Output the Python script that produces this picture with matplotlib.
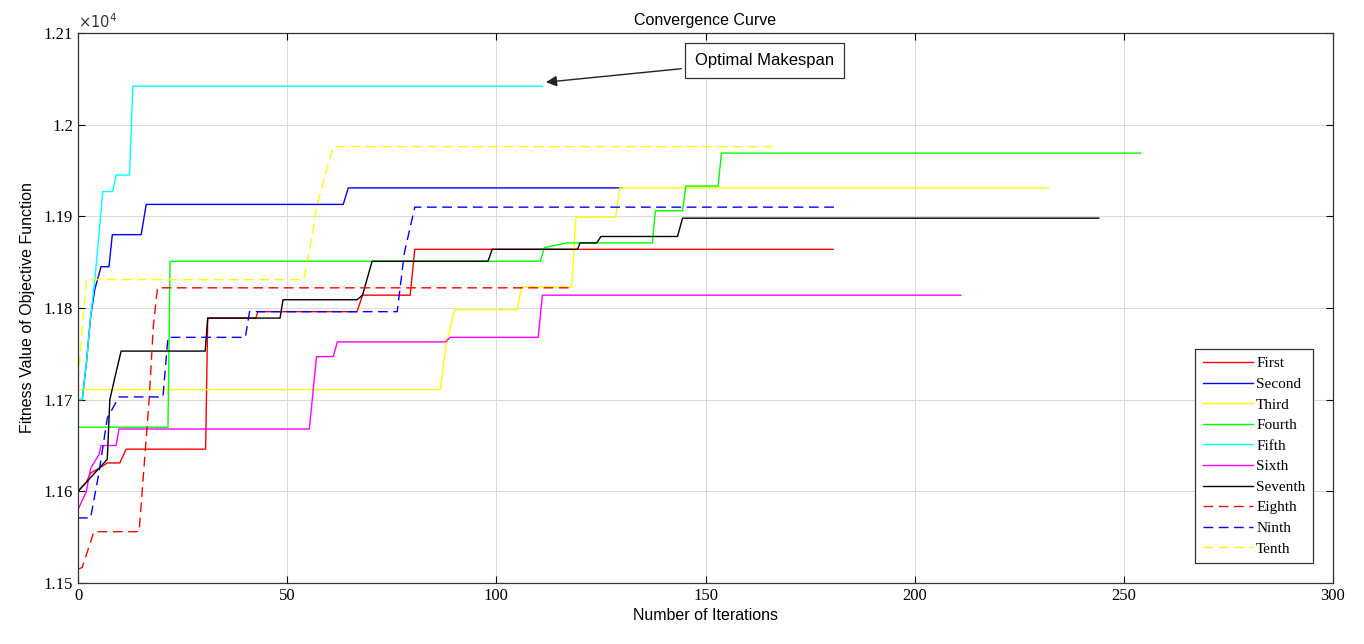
import numpy as np
import matplotlib
matplotlib.use("Agg")
import matplotlib.pyplot as plt
from matplotlib.ticker import FuncFormatter

# iteration / fitness breakpoints (fitness in raw units)
first_x = [0, 2, 3, 5, 7, 10, 11.5, 30.5, 31, 42.5, 43, 66.7, 68, 79.4, 80.5, 180.5]
first_y = [11600, 11610, 11620, 11625, 11631, 11631, 11646, 11646, 11789, 11789, 11796, 11796, 11814, 11814, 11864, 11864]

second_x = [0, 1, 2, 3, 4, 5.5, 7.4, 8.2, 15.1, 16.3, 63.4, 64.6, 130]
second_y = [11700, 11700, 11740, 11790, 11820, 11845, 11845, 11880, 11880, 11913, 11913, 11931, 11931]

third_x = [0, 86.6, 88, 90, 105, 106, 118, 118.5, 119, 128.5, 129.5, 232]
third_y = [11711, 11711, 11760, 11798, 11798, 11823, 11823, 11860, 11899, 11899, 11931, 11931]

fourth_x = [0, 21.5, 22, 110.5, 111.5, 117, 137.3, 138, 144.5, 145.3, 153, 153.8, 254]
fourth_y = [11670, 11670, 11851, 11851, 11866, 11871, 11871, 11906, 11906, 11933, 11933, 11969, 11969]

fifth_x = [0, 1, 2, 3, 4, 5, 5.9, 8.3, 9.1, 12.3, 13.1, 111]
fifth_y = [11700, 11700, 11740, 11790, 11830, 11880, 11927, 11927, 11945, 11945, 12042, 12042]

sixth_x = [0, 2, 3, 5, 5.5, 9.1, 9.8, 55.3, 57, 61, 62, 87.8, 89, 110, 111, 211]
sixth_y = [11580, 11600, 11625, 11640, 11650, 11650, 11668, 11668, 11747, 11747, 11763, 11763, 11768, 11768, 11814, 11814]

seventh_x = [0, 2, 4, 6, 7, 7.6, 8.6, 10.3, 30.4, 31, 48.3, 49, 66.7, 68, 70.3, 98, 99, 119.4, 120, 124, 125, 143.3, 144.5, 244]
seventh_y = [11600, 11610, 11620, 11630, 11635, 11700, 11720, 11753, 11753, 11789, 11789, 11809, 11809, 11814, 11851, 11851, 11864, 11864, 11871, 11871, 11878, 11878, 11898, 11898]

eighth_x = [0, 1, 3.8, 14.6, 16, 17, 18, 19, 118.4]
eighth_y = [11515, 11517, 11556, 11556, 11640, 11700, 11780, 11822, 11822]

ninth_x = [0, 3, 5, 7, 9.8, 20.3, 21.5, 40, 41, 76.3, 78, 80.5, 181.6]
ninth_y = [11571, 11571, 11620, 11680, 11703, 11703, 11768, 11768, 11796, 11796, 11860, 11910, 11910]

tenth_x = [0, 1, 2, 54, 56, 57, 60, 61, 166]
tenth_y = [11720, 11780, 11831, 11831, 11880, 11910, 11960, 11976, 11976]

names = ["First", "Second", "Third", "Fourth", "Fifth", "Sixth", "Seventh", "Eighth", "Ninth", "Tenth"]
xs = [first_x, second_x, third_x, fourth_x, fifth_x, sixth_x, seventh_x, eighth_x, ninth_x, tenth_x]
ys = [first_y, second_y, third_y, fourth_y, fifth_y, sixth_y, seventh_y, eighth_y, ninth_y, tenth_y]
styles = ["r-", "b-", "y-", "g-", "c-", "m-", "k-", "r--", "b--", "y--"]

plt.rcParams["font.family"] = ["Liberation Serif", "DejaVu Serif"]
sans = ["Liberation Sans", "DejaVu Sans"]

fig = plt.figure(figsize=(13.64, 6.44), dpi=100)
ax = fig.add_axes([0.0572, 0.0947, 0.9201, 0.8541])

colors = {"r": "#ff0000", "b": "#0000ff", "y": "#ffff00", "g": "#00ff00",
          "c": "#00ffff", "m": "#ff00ff", "k": "#000000"}
for x, y, st, nm in zip(xs, ys, styles, names):
    if "--" in st:
        ax.plot(x, y, color=colors[st[0]], lw=1.0, dashes=(7, 4), label=nm)
    else:
        ax.plot(x, y, color=colors[st[0]], lw=1.0, label=nm)

ax.set_xlim(0, 300)
ax.set_ylim(11500, 12100)
ax.set_xticks(np.arange(0, 301, 50))
ax.set_yticks(np.arange(11500, 12101, 100))
ax.yaxis.set_major_formatter(FuncFormatter(lambda v, p: "%g" % round(v / 1e4, 4)))
ax.tick_params(direction="in", top=True, right=True, labelsize=12, length=5, width=0.8)
ax.grid(True, color="#d9d9d9", lw=0.7)
for s in ax.spines.values():
    s.set_color("#333333")
    s.set_linewidth(0.9)

ax.text(0, 1.004, r"$\times10^{4}$", transform=ax.transAxes, fontsize=10.5,
        va="bottom", ha="left", color="#333333")

ax.set_title("Convergence Curve", fontsize=11.5, family=sans, pad=6)
ax.set_xlabel("Number of Iterations", fontsize=11.5, family=sans, labelpad=3)
ax.set_ylabel("Fitness Value of Objective Function", fontsize=11.5, family=sans, labelpad=6)

ax.annotate("Optimal Makespan", xy=(111.2, 12046), xytext=(164, 12070),
            fontsize=12, family=sans, ha="center", va="center",
            bbox=dict(boxstyle="square,pad=0.6", fc="white", ec="#333333", lw=0.9),
            arrowprops=dict(arrowstyle="-|>", color="#222222", lw=1.0, mutation_scale=16))

leg = ax.legend(loc="lower right", bbox_to_anchor=(0.984, 0.036), fontsize=11,
                handlelength=3.3, handletextpad=0.2, labelspacing=0.45,
                borderpad=0.5, borderaxespad=0, fancybox=False, framealpha=1,
                edgecolor="#333333")
leg.get_frame().set_linewidth(0.9)

fig.savefig("out.png", dpi=100)
plt.close(fig)
